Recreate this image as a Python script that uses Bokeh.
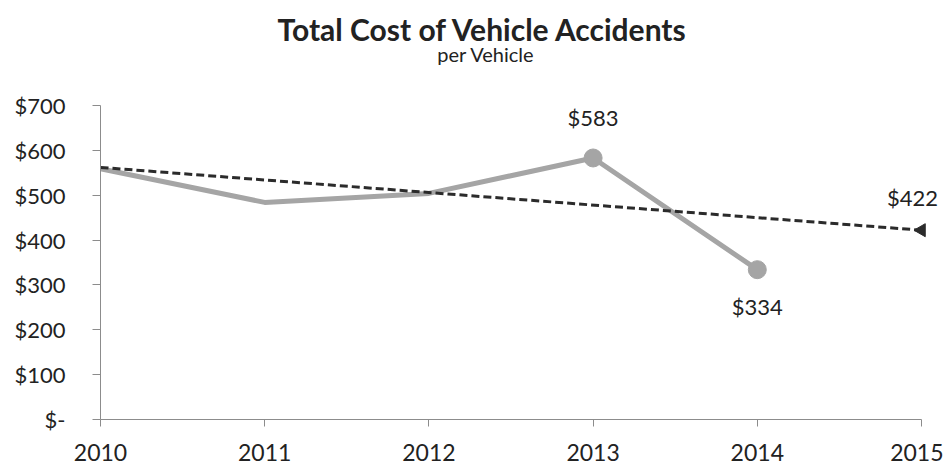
from bokeh.plotting import figure
from bokeh.models import Label, FixedTicker, Range1d
from bokeh.embed import file_html
from bokeh.resources import INLINE
import math

# Cost per vehicle by year
years = [2010, 2011, 2012, 2013, 2014]
cost = [559, 484, 504, 583, 334]

# Years whose points are marked and labelled
marked_years = [2013, 2014]
marked_cost = [583, 334]

# Linear trend, with its projected 2015 value
trend_years = [2010, 2015]
trend_cost = [562, 422]

y_ticks = [0, 100, 200, 300, 400, 500, 600, 700]
y_tick_labels = ["$-", "$100", "$200", "$300", "$400", "$500", "$600", "$700"]
x_ticks = [2010, 2011, 2012, 2013, 2014, 2015]

FONT = "Lato"
GREY = "#a5a5a5"
DARK = "#2b2b2b"
TEXT = "#222222"

# Page geometry (pixels). The frame runs to the top and right edges of the
# canvas so that titles and end labels are not clipped; the axes are bounded
# to the data extent instead.
W, H = 943, 468
LEFT, BOTTOM = 100, 49          # space for the axes
X0_PX, X1_PX = 100, 921         # where the first / last year sit
Y0_PX, Y1_PX = 419, 105         # where 0 and the top tick sit (from top)

x_lo, x_hi = x_ticks[0], x_ticks[-1]
y_lo, y_hi = y_ticks[0], y_ticks[-1]
px_per_year = (X1_PX - X0_PX) / (x_hi - x_lo)
px_per_unit = (Y0_PX - Y1_PX) / (y_hi - y_lo)
x_range = Range1d(x_lo, x_hi + (W - X1_PX) / px_per_year)
y_range = Range1d(y_lo, y_lo + Y0_PX / px_per_unit)

p = figure(width=W, height=H, output_backend="svg", toolbar_location=None,
           x_range=x_range, y_range=y_range,
           min_border_left=LEFT, min_border_right=0,
           min_border_top=0, min_border_bottom=BOTTOM)
p.outline_line_color = None
p.grid.grid_line_color = None
p.background_fill_color = "white"
p.border_fill_color = "white"

# main series
p.line(years, cost, line_color=GREY, line_width=5, line_join="round")
p.scatter(marked_years, marked_cost, size=18, marker="circle",
          fill_color=GREY, line_color=GREY)

# trend line ending in a left-pointing triangle
p.line(trend_years, trend_cost, line_color=DARK, line_width=3, line_dash="8 4")
p.scatter(trend_years[-1:], trend_cost[-1:], marker="triangle", size=13,
          angle=math.pi / 2, fill_color=DARK, line_color=DARK)

# value labels
for x, y, dy in [(marked_years[0], marked_cost[0], 40),
                 (marked_years[1], marked_cost[1], -37)]:
    p.add_layout(Label(x=x, y=y, text=f"${y}", y_offset=dy,
                       text_align="center", text_baseline="middle",
                       text_font=FONT, text_font_size="22px",
                       text_color=TEXT))
p.add_layout(Label(x=trend_years[-1], y=trend_cost[-1], text=f"${trend_cost[-1]}",
                   x_offset=-9, y_offset=33,
                   text_align="center", text_baseline="middle",
                   text_font=FONT, text_font_size="22px",
                   text_color=TEXT))

# titles
mid_year = (x_lo + x_hi) / 2
p.add_layout(Label(x=mid_year, y=y_hi, x_offset=-28, y_offset=77,
                   text="Total Cost of Vehicle Accidents",
                   text_align="center", text_baseline="middle",
                   text_font=FONT, text_font_style="bold",
                   text_font_size="30px", text_color=TEXT))
p.add_layout(Label(x=mid_year, y=y_hi, x_offset=-25, y_offset=52,
                   text="per Vehicle",
                   text_align="center", text_baseline="middle",
                   text_font=FONT, text_font_size="20px",
                   text_color=TEXT))

# axes
p.yaxis.ticker = FixedTicker(ticks=y_ticks)
p.yaxis.major_label_overrides = dict(zip(y_ticks, y_tick_labels))
p.yaxis.bounds = (y_lo, y_hi)
p.xaxis.ticker = FixedTicker(ticks=x_ticks)
p.xaxis.major_label_overrides = {t: str(t) for t in x_ticks}
p.xaxis.bounds = (x_lo, x_hi)
for ax in (p.xaxis, p.yaxis):
    ax.axis_line_color = "#8c8c8c"
    ax.axis_line_width = 1
    ax.major_tick_line_color = "#8c8c8c"
    ax.major_tick_in = 0
    ax.minor_tick_line_color = None
    ax.major_label_text_font = FONT
    ax.major_label_text_color = TEXT
p.yaxis.major_tick_out = 8
p.yaxis.major_label_standoff = 27
p.yaxis.major_label_text_font_size = "22px"
p.xaxis.major_tick_out = 7
p.xaxis.major_label_standoff = 17
p.xaxis.major_label_text_font_size = "23px"

open("out.html", "w").write(file_html(p, INLINE))
